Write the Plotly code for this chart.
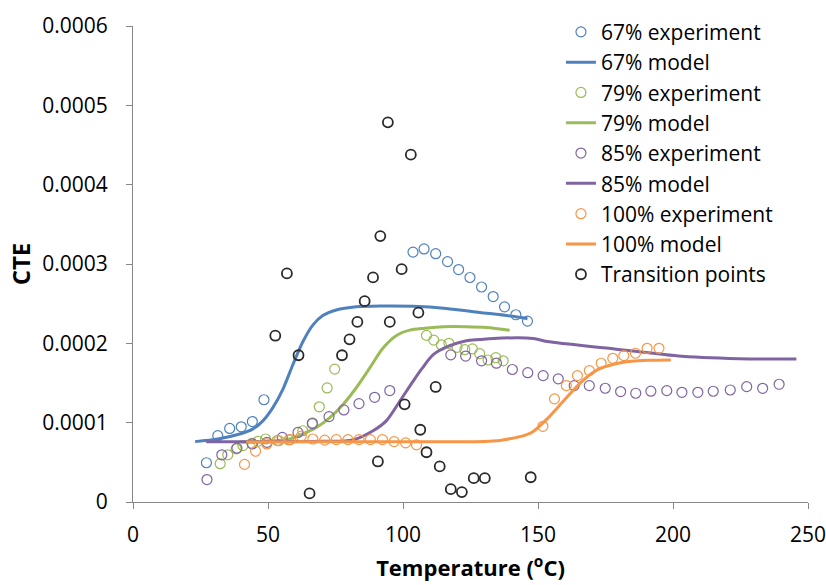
import plotly.graph_objects as go

# ---------------- data ----------------
t67_exp = [27.2, 31.4, 35.8, 40.1, 44.2, 48.5,
           103.7, 107.8, 112.1, 116.5, 120.6, 124.8, 129.1, 133.4, 137.6, 141.8, 146.1]
c67_exp = [0.0000495, 0.0000836, 0.0000927, 0.0000948, 0.0001014, 0.0001289,
           0.000315, 0.000319, 0.000313, 0.000303, 0.000293, 0.000283, 0.000271, 0.000259, 0.000246, 0.000236, 0.000228]

t67_mod = [23, 31.4, 39.5, 44.3, 48.1, 51.8, 55.5, 59.2, 62.9, 66.6, 70.3, 75.3, 82.7, 91.4, 103.7, 116, 128.4, 140.8, 146.1]
c67_mod = [0.0000761, 0.0000794, 0.0000857, 0.0000919, 0.0001023, 0.000119, 0.000142, 0.000173, 0.000202, 0.000223,
           0.000235, 0.000242, 0.000246, 0.000247, 0.0002466, 0.000244, 0.000239, 0.000234, 0.000231]

t79_exp = [32.3, 35.1, 38.2, 40.7, 44.0, 46.3, 49.1, 53.4, 57.7, 62.9, 66.5, 69.0, 71.9, 74.7,
           108.7, 111.4, 114.2, 117.0, 120.0, 122.9, 125.7, 128.4, 131.5, 134.4, 137.1]
c79_exp = [0.0000483, 0.0000595, 0.000067, 0.0000711, 0.000074, 0.0000765, 0.0000794, 0.0000775, 0.0000782, 0.0000898,
           0.0000997, 0.00012, 0.0001438, 0.0001675,
           0.00021, 0.000204, 0.000198, 0.0002, 0.000195, 0.000192, 0.000193, 0.000187, 0.000179, 0.000182, 0.000178]

t79_mod = [40, 50, 58, 62, 67.9, 72.8, 77.8, 82.7, 87.7, 92.6, 97.6, 102.5, 108, 115, 123.5, 131, 139.5]
c79_mod = [0.0000755, 0.0000765, 0.0000794, 0.0000845, 0.0000939, 0.000106, 0.000123, 0.000144, 0.000169,
           0.000194, 0.00021, 0.0002166, 0.000219, 0.000221, 0.000221, 0.00022, 0.0002166]

t85_exp = [27.4, 32.9, 38.5, 44.2, 49.6, 55.3, 61.1, 66.4, 72.6, 78.1, 83.7, 89.5, 95.1,
           117.7, 123.2, 129.1, 134.6, 140.5, 146.2, 151.9, 157.5, 163.4, 169.0, 174.9, 180.6, 186.2,
           191.8, 197.7, 203.3, 209.2, 214.9, 221.2, 227.3, 233.2, 239.3]
c85_exp = [0.0000283, 0.0000595, 0.0000678, 0.0000732, 0.0000752, 0.0000815, 0.0000877, 0.0000989, 0.0001076,
           0.000116, 0.000124, 0.000132, 0.0001405,
           0.0001855, 0.000184, 0.000178, 0.000175, 0.000167, 0.000163, 0.0001593, 0.0001552, 0.0001467, 0.0001467,
           0.0001434, 0.0001392, 0.0001371, 0.0001397, 0.0001404, 0.0001383, 0.0001383, 0.0001396, 0.0001412,
           0.0001454, 0.0001433, 0.0001484]

t85_mod = [27.1, 50, 70, 81.5, 88.9, 93.8, 98.8, 103.7, 107, 111.1, 117.3, 123.5, 128.4, 133.4, 148.2, 153.4,
           178.4, 203.3, 228.3, 245.7]
c85_mod = [0.0000761, 0.0000761, 0.0000765, 0.0000782, 0.0000898, 0.0001023, 0.000127, 0.000152, 0.000168,
           0.0001855, 0.000197, 0.0002033, 0.0002047, 0.0002062, 0.0002062, 0.0002022, 0.000193, 0.0001837,
           0.0001804, 0.0001804]

t100_exp = [41.3, 45.4, 49.6, 54.0, 58.3, 62.3, 66.6, 71.0, 75.3, 79.6, 83.7, 87.9, 92.4, 96.7, 101.0, 105.0,
            151.8, 156.1, 160.5, 164.6, 169.0, 173.4, 177.7, 181.8, 186.1, 190.4, 194.8]
c100_exp = [0.0000474, 0.000064, 0.0000732, 0.0000773, 0.0000786, 0.000083, 0.0000794, 0.000078, 0.0000786,
            0.0000786, 0.0000786, 0.0000786, 0.0000786, 0.0000761, 0.0000745, 0.000072,
            0.0000954, 0.00013, 0.0001467, 0.0001593, 0.0001656, 0.0001749, 0.0001811, 0.0001845, 0.0001875,
            0.0001937, 0.0001937]

t100_mod = [42, 70, 100, 130, 136, 140, 144, 147.8, 153.4, 159.6, 165.9, 172.1, 178.4, 184.6, 190.8, 199.2]
c100_mod = [0.0000755, 0.0000758, 0.0000760, 0.0000762, 0.0000775, 0.00008, 0.000083, 0.0000879, 0.0001048,
            0.0001279, 0.0001509, 0.0001669, 0.000174, 0.0001774, 0.0001786, 0.000179]

t_trans = [94.4, 102.9, 91.6, 99.5, 88.9, 57.0, 52.7, 61.3, 85.8, 83.1, 80.2, 77.4, 95.1, 105.7,
           100.6, 106.4, 90.7, 65.4, 108.7, 112.1, 113.6, 117.7, 121.8, 126.2, 130.3, 147.3]
c_trans = [0.0004786, 0.0004378, 0.0003352, 0.0002935, 0.0002831, 0.0002881, 0.0002096, 0.000185, 0.0002532,
           0.000227, 0.000205, 0.000185, 0.000227, 0.0002387, 0.0001231, 0.0000911, 0.0000511, 0.0000108,
           0.0000627, 0.000145, 0.0000449, 0.0000162, 0.0000125, 0.00003, 0.00003, 0.0000312]

x_ticks = [0, 50, 100, 150, 200, 250]
y_ticks = [0, 0.0001, 0.0002, 0.0003, 0.0004, 0.0005, 0.0006]
y_tick_labels = ["0", "0.0001", "0.0002", "0.0003", "0.0004", "0.0005", "0.0006"]

# ---------------- styling ----------------
BLUE = "#4F81BD"
GREEN = "#9BBB59"
PURPLE = "#8064A2"
ORANGE = "#F79646"
DARK = "#2A2A2A"
FONT = "Open Sans"

fig = go.Figure()


def exp_trace(x, y, name, color, width=1.2):
    return go.Scatter(x=x, y=y, mode="markers", name=name,
                      marker=dict(symbol="circle-open", size=10, color=color, line=dict(width=width, color=color)))


def mod_trace(x, y, name, color):
    return go.Scatter(x=x, y=y, mode="lines", name=name, line=dict(color=color, width=3, shape="spline", smoothing=0.8))


fig.add_trace(exp_trace(t67_exp, c67_exp, "67% experiment", BLUE))
fig.add_trace(mod_trace(t67_mod, c67_mod, "67% model", BLUE))
fig.add_trace(exp_trace(t79_exp, c79_exp, "79% experiment", GREEN))
fig.add_trace(mod_trace(t79_mod, c79_mod, "79% model", GREEN))
fig.add_trace(exp_trace(t85_exp, c85_exp, "85% experiment", PURPLE))
fig.add_trace(mod_trace(t85_mod, c85_mod, "85% model", PURPLE))
fig.add_trace(exp_trace(t100_exp, c100_exp, "100% experiment", ORANGE))
fig.add_trace(mod_trace(t100_mod, c100_mod, "100% model", ORANGE))
fig.add_trace(exp_trace(t_trans, c_trans, "Transition points", DARK, width=1.8))

fig.update_layout(
    width=826, height=585,
    margin=dict(l=133, r=18, t=21, b=83),
    paper_bgcolor="white", plot_bgcolor="white",
    font=dict(family=FONT, size=21, color="#000000"),
    showlegend=True,
    legend=dict(x=0.634, y=1.03, xanchor="left", yanchor="top", bgcolor="rgba(0,0,0,0)",
                font=dict(family=FONT, size=21, color="#000000"), itemwidth=30, tracegroupgap=0),
    xaxis=dict(range=[0, 250], tickvals=x_ticks, showgrid=False, zeroline=False, automargin=False,
               ticklabeloverflow="allow",
               showline=True, linecolor="#868686", linewidth=1, ticks="outside", ticklen=6,
               tickcolor="#868686", tickfont=dict(family=FONT, size=21), ticklabelstandoff=8,
               title=dict(text="<b>Temperature (<sup>o</sup>C)</b>", font=dict(family=FONT, size=22), standoff=13)),
    yaxis=dict(range=[0, 0.0006], tickvals=y_ticks, ticktext=y_tick_labels, showgrid=False, zeroline=False,
               automargin=False, ticklabeloverflow="allow",
               showline=True, linecolor="#868686", linewidth=1, ticks="outside", ticklen=6,
               tickcolor="#868686", tickfont=dict(family=FONT, size=21), ticklabelstandoff=14,
               title=dict(text="<b>CTE</b>", font=dict(family=FONT, size=24), standoff=4)),
)

fig.write_html("out.html")
